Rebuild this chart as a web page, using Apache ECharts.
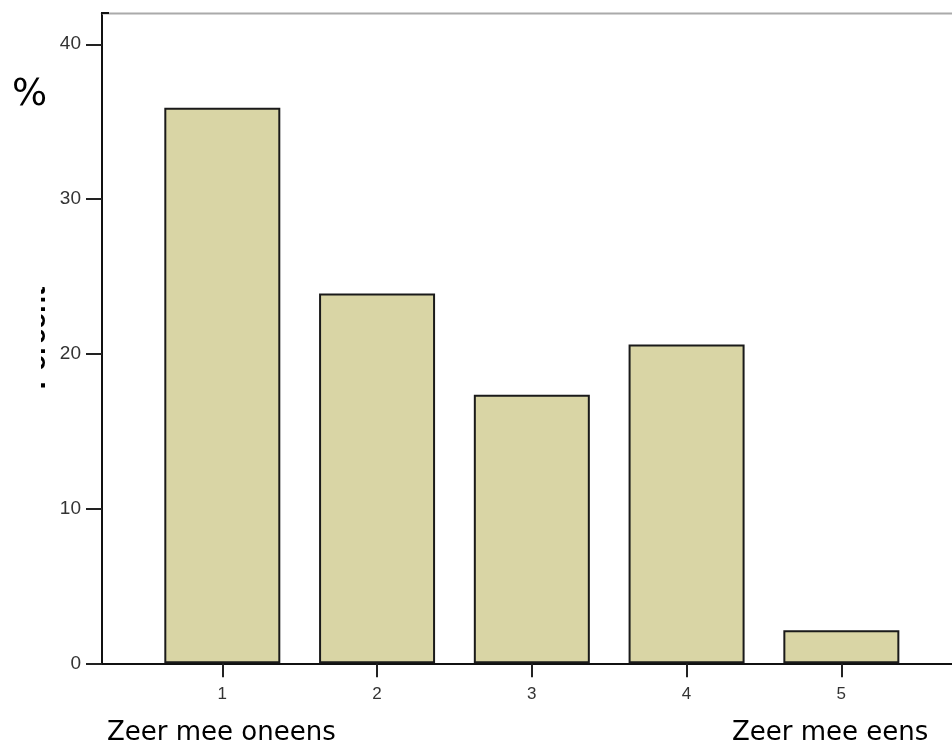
<!DOCTYPE html>
<html>
<head>
<meta charset="utf-8">
<script src="https://cdn.jsdelivr.net/npm/echarts@6/dist/echarts.min.js"></script>
<style>
html,body{margin:0;padding:0;background:#fff;}
#chart{width:952px;height:753px;}
</style>
</head>
<body>
<div id="chart"></div>
<script>
// Data
const categories = [1, 2, 3, 4, 5];
const categoryLabels = ['1', '2', '3', '4', '5'];
const percentValues = [35.9, 23.9, 17.35, 20.6, 2.13];
const yTickValues = [0, 10, 20, 30, 40];
const yAxisTitle = 'Percent';
const unitLabel = '%';
const leftEndLabel = 'Zeer mee oneens';
const rightEndLabel = 'Zeer mee eens';

const chart = echarts.init(document.getElementById('chart'));
const barData = categories.map((c, i) => [c, percentValues[i]]);

chart.setOption({
  animation: false,
  backgroundColor: '#ffffff',
  grid: { left: 102, right: 0, top: 13.3, bottom: 89.7, containLabel: false },
  xAxis: {
    type: 'value',
    min: 0.2226,
    max: 5.715,
    splitLine: { show: false },
    axisLine: { show: true, onZero: false, lineStyle: { color: '#111', width: 2 } },
    axisTick: { show: true, customValues: categories, length: 14, lineStyle: { color: '#222', width: 2 } },
    axisLabel: {
      show: true, customValues: categories, margin: 23,
      formatter: v => categoryLabels[categories.indexOf(v)] || '',
      fontFamily: 'Liberation Sans, Arial, sans-serif', fontSize: 17, color: '#333'
    }
  },
  yAxis: {
    type: 'value',
    min: 0,
    max: 42,
    splitLine: { show: false },
    axisLine: { show: true, lineStyle: { color: '#111', width: 2 } },
    axisTick: { show: true, customValues: yTickValues, length: 16, lineStyle: { color: '#222', width: 2 } },
    axisLabel: {
      customValues: yTickValues,
      margin: 21,
      fontFamily: 'Liberation Sans, Arial, sans-serif', fontSize: 19, color: '#333'
    }
  },
  series: [{
    type: 'bar',
    data: barData,
    barWidth: 116,
    itemStyle: { color: '#d9d5a5', borderColor: '#1a1a1a', borderWidth: 2 }
  }],
  graphic: [
    { type: 'line', z: 10, shape: { x1: 102, y1: 13.5, x2: 952, y2: 13.5 }, style: { stroke: '#aaaaaa', lineWidth: 2 } },
    { type: 'line', z: 11, shape: { x1: 101, y1: 13, x2: 109, y2: 13 }, style: { stroke: '#111', lineWidth: 2 } },
    { type: 'text', z: 5, x: 51, y: 338, rotation: Math.PI / 2,
      style: { text: yAxisTitle, font: 'bold 28px "Liberation Sans", Arial, sans-serif', fill: '#000', textAlign: 'center', textVerticalAlign: 'bottom' } },
    { type: 'rect', z: 6, shape: { x: 0, y: 250, width: 41, height: 170 }, style: { fill: '#ffffff' } },
    { type: 'text', z: 10, x: 12, y: 95,
      style: { text: unitLabel, font: '37px "DejaVu Sans", Verdana, sans-serif', fill: '#000', textAlign: 'left', textVerticalAlign: 'middle' } },
    { type: 'text', z: 10, x: 107, y: 746,
      style: { text: leftEndLabel, font: '26px "DejaVu Sans", Verdana, sans-serif', fill: '#000', textAlign: 'left', textVerticalAlign: 'bottom' } },
    { type: 'text', z: 10, x: 732, y: 746,
      style: { text: rightEndLabel, font: '26px "DejaVu Sans", Verdana, sans-serif', fill: '#000', textAlign: 'left', textVerticalAlign: 'bottom' } }
  ]
});
</script>
</body>
</html>
